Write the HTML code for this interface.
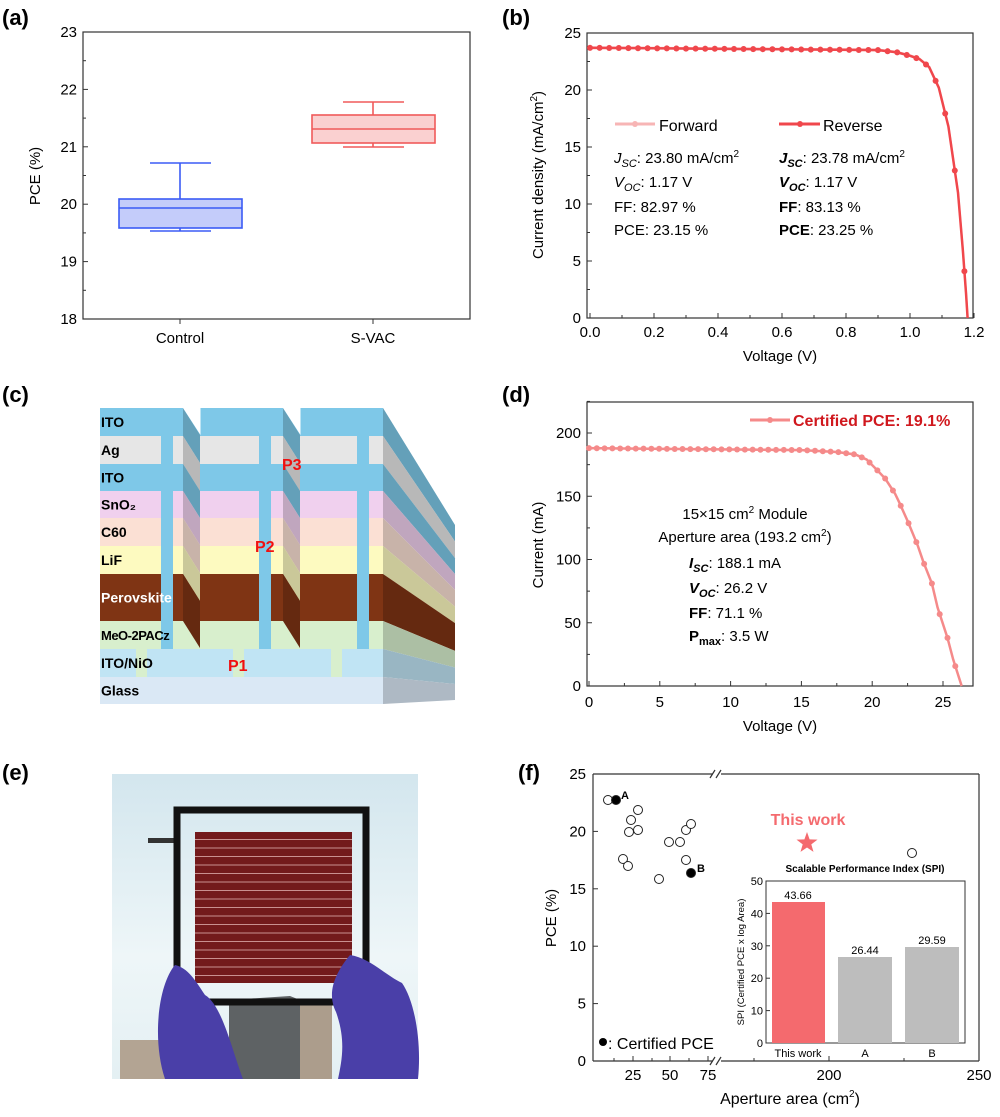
<!DOCTYPE html>
<html><head><meta charset="utf-8"><style>
body{margin:0;background:#fff}
svg text{font-family:"Liberation Sans",Arial,sans-serif}
</style></head><body>
<svg id="s" width="1000" height="1112" viewBox="0 0 1000 1112" xmlns="http://www.w3.org/2000/svg">
<g font-size="22" font-weight="bold">
<text x="2" y="25">(a)</text><text x="502" y="25">(b)</text>
<text x="2" y="402">(c)</text><text x="502" y="402">(d)</text>
<text x="2" y="780">(e)</text><text x="518" y="780">(f)</text>
</g>

<!-- (a) -->
<g stroke="#333" stroke-width="1.2" fill="none">
<rect x="83" y="32" width="387" height="287"/>
</g>
<g id="aticks" font-size="15" text-anchor="end"></g>
<text font-size="15" transform="translate(40,176) rotate(-90)" text-anchor="middle">PCE (%)</text>
<text font-size="15" x="180" y="343" text-anchor="middle">Control</text>
<text font-size="15" x="373" y="343" text-anchor="middle">S-VAC</text>
<line x1="180" y1="319" x2="180" y2="324" stroke="#333"/><line x1="373" y1="319" x2="373" y2="324" stroke="#333"/>
<g stroke="#3b5bf5" stroke-width="1.6" fill="none">
<rect x="119" y="199" width="123" height="29" fill="#c4ccfa"/>
<line x1="119" y1="208" x2="242" y2="208"/>
<line x1="180" y1="199" x2="180" y2="163"/><line x1="150" y1="163" x2="211" y2="163"/>
<line x1="180" y1="228" x2="180" y2="231"/><line x1="150" y1="231" x2="211" y2="231"/>
</g>
<g stroke="#f05a5a" stroke-width="1.6" fill="none">
<rect x="312" y="115" width="123" height="28" fill="#fad0d0"/>
<line x1="312" y1="129" x2="435" y2="129"/>
<line x1="373" y1="115" x2="373" y2="102"/><line x1="343" y1="102" x2="404" y2="102"/>
<line x1="373" y1="143" x2="373" y2="147"/><line x1="343" y1="147" x2="404" y2="147"/>
</g>

<!-- (b) -->
<rect x="587" y="33" width="386" height="285" fill="none" stroke="#333" stroke-width="1.2"/>
<g id="bticks" font-size="15"></g>
<text font-size="15" transform="translate(543,175) rotate(-90)" text-anchor="middle">Current density (mA/cm<tspan dy="-6" font-size="10">2</tspan><tspan dy="6">)</tspan></text>
<text font-size="15" x="780" y="361" text-anchor="middle">Voltage (V)</text>
<g id="bcurve"></g>
<line x1="615" y1="124" x2="655" y2="124" stroke="#f7b5b5" stroke-width="3"/><circle cx="635" cy="124" r="3" fill="#f7b5b5"/>
<text x="659" y="131" font-size="16">Forward</text>
<line x1="779" y1="124" x2="820" y2="124" stroke="#f0474c" stroke-width="3"/><circle cx="800" cy="124" r="3" fill="#f0474c"/>
<text x="823" y="131" font-size="16">Reverse</text>
<g font-size="15">
<text x="614" y="163"><tspan font-style="italic">J</tspan><tspan font-style="italic" font-size="11" dy="4">SC</tspan><tspan dy="-4">: 23.80 mA/cm</tspan><tspan font-size="10" dy="-6">2</tspan></text>
<text x="614" y="187"><tspan font-style="italic">V</tspan><tspan font-style="italic" font-size="11" dy="4">OC</tspan><tspan dy="-4">: 1.17 V</tspan></text>
<text x="614" y="212">FF: 82.97 %</text>
<text x="614" y="235">PCE: 23.15 %</text>
<text x="779" y="163"><tspan font-style="italic" font-weight="bold">J</tspan><tspan font-style="italic" font-weight="bold" font-size="11" dy="4">SC</tspan><tspan dy="-4">: 23.78 mA/cm</tspan><tspan font-size="10" dy="-6">2</tspan></text>
<text x="779" y="187"><tspan font-style="italic" font-weight="bold">V</tspan><tspan font-style="italic" font-weight="bold" font-size="11" dy="4">OC</tspan><tspan dy="-4">: 1.17 V</tspan></text>
<text x="779" y="212"><tspan font-weight="bold">FF</tspan>: 83.13 %</text>
<text x="779" y="235"><tspan font-weight="bold">PCE</tspan>: 23.25 %</text>
</g>

<!-- (c) -->
<g id="cdiag"></g>

<!-- (d) -->
<rect x="587" y="402" width="386" height="284" fill="none" stroke="#333" stroke-width="1.2"/>
<g id="dticks" font-size="15"></g>
<text font-size="15" transform="translate(543,545) rotate(-90)" text-anchor="middle">Current (mA)</text>
<text font-size="15" x="780" y="731" text-anchor="middle">Voltage (V)</text>
<g id="dcurve"></g>
<line x1="750" y1="420" x2="790" y2="420" stroke="#f58a8a" stroke-width="3"/><circle cx="770" cy="420" r="3" fill="#f58a8a"/>
<text x="793" y="426" font-size="16" font-weight="bold" fill="#d0181e">Certified PCE: 19.1%</text>
<g font-size="15" text-anchor="middle">
<text x="745" y="519">15×15 cm<tspan font-size="10" dy="-6">2</tspan><tspan dy="6"> Module</tspan></text>
<text x="745" y="542">Aperture area (193.2 cm<tspan font-size="10" dy="-6">2</tspan><tspan dy="6">)</tspan></text>
</g>
<g font-size="15">
<text x="689" y="568"><tspan font-style="italic" font-weight="bold">I</tspan><tspan font-style="italic" font-weight="bold" font-size="11" dy="4">SC</tspan><tspan dy="-4">: 188.1 mA</tspan></text>
<text x="689" y="593"><tspan font-style="italic" font-weight="bold">V</tspan><tspan font-style="italic" font-weight="bold" font-size="11" dy="4">OC</tspan><tspan dy="-4">: 26.2 V</tspan></text>
<text x="689" y="618"><tspan font-weight="bold">FF</tspan>: 71.1 %</text>
<text x="689" y="641"><tspan font-weight="bold">P</tspan><tspan font-weight="bold" font-size="11" dy="4">max</tspan><tspan dy="-4">: 3.5 W</tspan></text>
</g>

<!-- (e) photo -->
<defs>
<linearGradient id="sky" x1="0" y1="0" x2="0" y2="1"><stop offset="0" stop-color="#d3e6ee"/><stop offset="0.6" stop-color="#eef6f8"/><stop offset="1" stop-color="#e4f0f3"/></linearGradient>
<pattern id="stripes" x="0" y="832" width="10" height="8.5" patternUnits="userSpaceOnUse"><rect width="10" height="8.5" fill="#731a1c"/><rect y="7" width="10" height="1" fill="#c99090"/></pattern>
</defs>
<rect x="112" y="774" width="306" height="305" fill="url(#sky)"/>
<rect x="120" y="1040" width="110" height="39" fill="#b3a493"/>
<polygon points="229,1000 290,996 300,1000 300,1079 229,1079" fill="#5e6264"/>
<rect x="300" y="1000" width="32" height="79" fill="#ac9d8c"/>
<rect x="148" y="838" width="32" height="5" fill="#333"/>
<rect x="360" y="993" width="45" height="4" fill="#555"/>
<rect x="177" y="810" width="189" height="192" fill="none" stroke="#111" stroke-width="7"/>
<rect x="195" y="832" width="157" height="151" fill="url(#stripes)"/>
<path d="M165,1079 C152,1040 158,985 175,965 C188,968 195,980 205,995 C222,1005 232,1050 243,1079 Z" fill="#4a3fa8"/>
<path d="M418,1079 C422,1040 414,1000 402,983 C385,975 370,958 350,955 C336,972 326,992 336,1012 C346,1040 342,1060 338,1079 Z" fill="#4a3fa8"/>

<!-- (f) -->
<g stroke="#333" stroke-width="1.2" fill="none">
<line x1="593" y1="774" x2="593" y2="1061"/>
<line x1="979" y1="774" x2="979" y2="1061"/>
<line x1="593" y1="774" x2="713" y2="774"/><line x1="721" y1="774" x2="979" y2="774"/>
<line x1="593" y1="1061" x2="713" y2="1061"/><line x1="721" y1="1061" x2="979" y2="1061"/>
<line x1="710" y1="778" x2="715" y2="770"/><line x1="716" y1="778" x2="721" y2="770"/>
<line x1="710" y1="1065" x2="715" y2="1057"/><line x1="716" y1="1065" x2="721" y2="1057"/>
</g>
<g id="fticks" font-size="15"></g>
<text font-size="15" transform="translate(556,918) rotate(-90)" text-anchor="middle">PCE (%)</text>
<text font-size="16" x="790" y="1104" text-anchor="middle">Aperture area (cm<tspan font-size="10" dy="-7">2</tspan><tspan dy="7">)</tspan></text>
<g id="fpts" stroke="#222" stroke-width="1" fill="#fff"></g>
<text x="621" y="799" font-size="11" font-weight="bold">A</text>
<text x="697" y="872" font-size="11" font-weight="bold">B</text>
<circle cx="603" cy="1042" r="4" fill="#000"/>
<text x="608" y="1049" font-size="16">: Certified PCE</text>
<text x="808" y="825" font-size="16" font-weight="bold" fill="#f46a6e" text-anchor="middle">This work</text>
<polygon id="star" fill="#f46a6e"/>
<text x="865" y="872" font-size="10" font-weight="bold" text-anchor="middle">Scalable Performance Index (SPI)</text>
<rect x="766" y="881" width="199" height="162" fill="#fff" stroke="#333" stroke-width="1"/>
<rect x="772" y="902" width="53" height="141" fill="#f46a6e"/>
<rect x="838" y="957" width="54" height="86" fill="#bdbdbd"/>
<rect x="905" y="947" width="54" height="96" fill="#bdbdbd"/>
<g font-size="11" text-anchor="middle">
<text x="798" y="899">43.66</text><text x="865" y="954">26.44</text><text x="932" y="944">29.59</text>
<text x="798" y="1057">This work</text><text x="865" y="1057">A</text><text x="932" y="1057">B</text>
</g>
<g id="iticks" font-size="11" text-anchor="end"></g>
<text font-size="9.5" transform="translate(744,962) rotate(-90)" text-anchor="middle">SPI (Certified PCE x log Area)</text>
</svg>
<script>
const NS="http://www.w3.org/2000/svg";
function el(p,t,a,txt){const e=document.createElementNS(NS,t);for(const k in a)e.setAttribute(k,a[k]);if(txt!==undefined)e.textContent=txt;document.getElementById(p).appendChild(e);return e;}
for(let v=18;v<=23;v++){const y=319-(v-18)*57.4;el('aticks','text',{x:77,y:y+5},v);el('aticks','line',{x1:83,y1:y,x2:88,y2:y,stroke:'#333'});
 if(v<23)el('aticks','line',{x1:83,y1:y-28.7,x2:86,y2:y-28.7,stroke:'#333'});}
for(let i=0;i<=6;i++){const x=590+i*64;el('bticks','text',{x:x,y:337,'text-anchor':'middle'},(i*0.2).toFixed(1));el('bticks','line',{x1:x,y1:318,x2:x,y2:313,stroke:'#333'});if(i<6)el('bticks','line',{x1:x+32,y1:318,x2:x+32,y2:315,stroke:'#333'});}
for(let i=0;i<=5;i++){const y=318-i*57;el('bticks','text',{x:581,y:y+5,'text-anchor':'end'},i*5);el('bticks','line',{x1:587,y1:y,x2:592,y2:y,stroke:'#333'});if(i<5)el('bticks','line',{x1:587,y1:y-28.5,x2:590,y2:y-28.5,stroke:'#333'});}
function interp(p,x){for(let i=1;i<p.length;i++){if(x<=p[i][0]){const t=(x-p[i-1][0])/(p[i][0]-p[i-1][0]);return p[i-1][1]+t*(p[i][1]-p[i-1][1]);}}return p[p.length-1][1];}
function curve(g,p,sx,sy,step,col,r,w){const pts=p.map(q=>sx(q[0])+','+sy(q[1])).join(' ');el(g,'polyline',{points:pts,fill:'none',stroke:col,'stroke-width':w});
 const xm=p[p.length-1][0];for(let x=0;x<=xm+1e-9;x+=step){el(g,'circle',{cx:sx(x),cy:sy(interp(p,x)),r:r,fill:col});}}
const bp=[[0,23.7],[0.9,23.5],[0.96,23.3],[1.0,23.0],[1.03,22.7],[1.06,22.0],[1.09,20.2],[1.12,16.8],[1.15,11.0],[1.165,6],[1.175,2.2],[1.18,0]];
curve('bcurve',bp.map(q=>[q[0],q[1]+0.05]),v=>590+v*320,j=>318-j*11.4,0.03,'#f7b5b5',2.5,2);
curve('bcurve',bp,v=>590+v*320,j=>318-j*11.4,0.03,'#f0474c',3,2.5);
for(let i=0;i<=5;i++){const x=589+i*70.8;el('dticks','text',{x:x,y:707,'text-anchor':'middle'},i*5);el('dticks','line',{x1:x,y1:686,x2:x,y2:681,stroke:'#333'});if(i<5)el('dticks','line',{x1:x+35.4,y1:686,x2:x+35.4,y2:683,stroke:'#333'});}
for(let i=0;i<=4;i++){const y=686-i*63.25;el('dticks','text',{x:581,y:y+5,'text-anchor':'end'},i*50);el('dticks','line',{x1:587,y1:y,x2:592,y2:y,stroke:'#333'});el('dticks','line',{x1:587,y1:y-31.6,x2:590,y2:y-31.6,stroke:'#333'});}
const dp=[[0,188],[15,186.5],[17.5,185],[18.8,183],[19.6,179],[20.3,171],[20.9,164],[21.6,152],[21.9,145],[22.5,130],[23.2,111],[23.6,98],[24.2,81],[24.6,62],[25.3,38],[25.7,21],[26.3,0]];
curve('dcurve',dp,v=>589+v*14.17,j=>686-j*1.265,0.55,'#f58a8a',3,2.5);
for(let i=0;i<=5;i++){const y=1061-i*57.4;el('fticks','text',{x:586,y:y+5,'text-anchor':'end'},i*5);el('fticks','line',{x1:593,y1:y,x2:598,y2:y,stroke:'#333'});}
[[633,'25'],[670,'50'],[708,'75'],[829,'200'],[979,'250']].forEach(a=>{el('fticks','text',{x:a[0],y:1080,'text-anchor':'middle'},a[1]);el('fticks','line',{x1:a[0],y1:1061,x2:a[0],y2:1056,stroke:'#333'});});
[614,652,689,754,904].forEach(x=>el('fticks','line',{x1:x,y1:1061,x2:x,y2:1058,stroke:'#333'}));
[[608,800],[638,810],[631,820],[629,832],[638,830],[623,859],[628,866],[659,879],[669,842],[680,842],[686,830],[691,824],[686,860],[912,853]].forEach(p=>el('fpts','circle',{cx:p[0],cy:p[1],r:4.5}));
[[616,800],[691,873]].forEach(p=>el('fpts','circle',{cx:p[0],cy:p[1],r:4.5,fill:'#000'}));
{let s=[];for(let i=0;i<10;i++){const r=i%2?4.5:11,a=-Math.PI/2+i*Math.PI/5;s.push((807+r*Math.cos(a)).toFixed(1)+','+(843+r*Math.sin(a)).toFixed(1));}document.getElementById('star').setAttribute('points',s.join(' '));}
for(let i=0;i<=5;i++){const y=1043-i*32.4;el('iticks','text',{x:763,y:y+4},i*10);el('iticks','line',{x1:766,y1:y,x2:770,y2:y,stroke:'#333'});}
const L=[['ITO',408,436,'#7ec8e8','#000'],['Ag',436,464,'#e6e6e6','#000'],['ITO',464,491,'#7ec8e8','#000'],['SnO₂',491,518,'#f0d0ee','#000'],['C60',518,546,'#fbe0d4','#000'],['LiF',546,574,'#fdfac0','#000'],['Perovskite',574,621,'#7f3414','#fff'],['MeO-2PACz',621,649,'#d8efcd','#000'],['ITO/NiO',649,677,'#c0e4f4','#000'],['Glass',677,704,'#dae8f5','#000']];
const sy=y=>525+(y-408)*(175/296);
L.forEach(l=>{el('cdiag','rect',{x:100,y:l[1],width:283,height:l[2]-l[1],fill:l[3]});
 el('cdiag','polygon',{points:`383,${l[1]} 455,${sy(l[1])} 455,${sy(l[2])} 383,${l[2]}`,fill:l[3]});
 el('cdiag','polygon',{points:`383,${l[1]} 455,${sy(l[1])} 455,${sy(l[2])} 383,${l[2]}`,fill:'#000',opacity:0.2});});
[183,283].forEach(x0=>{L.slice(0,7).forEach(l=>{const y1=l[1],y2=Math.min(l[2],621);el('cdiag','polygon',{points:`${x0},${y1} ${x0+17},${y1+27} ${x0+17},${Math.min(y2+27,649)} ${x0},${y2}`,fill:l[3]});
 el('cdiag','polygon',{points:`${x0},${y1} ${x0+17},${y1+27} ${x0+17},${Math.min(y2+27,649)} ${x0},${y2}`,fill:'#000',opacity:0.2});});
 el('cdiag','rect',{x:x0-0.5,y:390,width:18,height:18,fill:'#fff'});el('cdiag','polygon',{points:`${x0},408 ${x0+17.5},408 ${x0+17.5},435`,fill:'#fff'});});
[161,259,357].forEach(x=>el('cdiag','rect',{x:x,y:436,width:12,height:213,fill:'#7ec8e8'}));
[136,233,331].forEach(x=>el('cdiag','rect',{x:x,y:649,width:11,height:28,fill:'#d8efcd'}));
L.forEach(l=>{el('cdiag','text',{x:101,y:(l[1]+l[2])/2+5,'font-size':l[0]=='MeO-2PACz'?13:14,'font-weight':'bold',fill:l[4],'letter-spacing':l[0]=='MeO-2PACz'?'-0.5':'0'},l[0]);});
[['P3',282,470],['P2',255,552],['P1',228,671]].forEach(p=>el('cdiag','text',{x:p[1],y:p[2],'font-size':16,'font-weight':'bold',fill:'#f01010'},p[0]));
</script>
</body></html>
